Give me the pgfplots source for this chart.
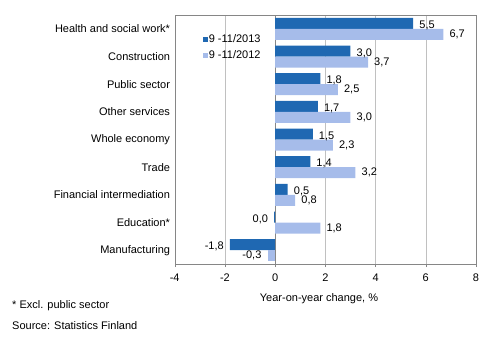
\documentclass[border=0pt]{standalone}
\usepackage{fontspec}
\setmainfont{Liberation Sans}
\usepackage{pgfplots}
\usepackage{pgfplotstable}
\pgfplotsset{compat=1.18}
\definecolor{darkbar}{RGB}{31,104,178}
\definecolor{lightbar}{RGB}{166,188,234}
\definecolor{gridgray}{RGB}{192,192,192}
\definecolor{axisgray}{RGB}{134,134,134}

% 9-11/2013, positive values
\pgfplotstableread{
y x lab
8 5.5 5,5
7 3.0 3,0
6 1.8 1,8
5 1.7 1,7
4 1.5 1,5
3 1.4 1,4
2 0.5 0,5
}\darkpos
% 9-11/2013, negative values
\pgfplotstableread{
y x lab
1 -0.04 0,0
0 -1.8 -1,8
}\darkneg
% 9-11/2012, positive values
\pgfplotstableread{
y x lab
8 6.7 6,7
7 3.7 3,7
6 2.5 2,5
5 3.0 3,0
4 2.3 2,3
3 3.2 3,2
2 0.8 0,8
1 1.8 1,8
}\lightpos
% 9-11/2012, negative values
\pgfplotstableread{
y x lab
0 -0.3 -0,3
}\lightneg

\begin{document}
\begin{tikzpicture}[font=\fontsize{11bp}{13bp}\selectfont]
\useasboundingbox (0,0) rectangle (496bp,341bp);
\begin{axis}[
  at={(174.7bp,77bp)}, anchor=south west,
  scale only axis, width=301.3bp, height=249bp,
  xmin=-4, xmax=8, ymin=-0.5, ymax=8.5,
  xtick={-4,-2,0,2,4,6,8}, xticklabels={-4,-2,0,2,4,6,8},
  ytick={0,...,8},
  yticklabels={Manufacturing, Education*, Financial intermediation, Trade, Whole economy, Other services, Public sector, Construction, Health and social work*},
  xtick pos=lower, ytick pos=left,
  tick align=outside, major tick length=3bp,
  xtick style={draw=axisgray}, ytick style={draw=none},
  axis line style={draw=axisgray},
  xmajorgrids, grid style={draw=gridgray},
  extra x ticks={0}, extra x tick labels={},
  extra x tick style={grid style={draw=axisgray}, major tick length=0pt},
  yticklabel style={inner sep=1.5bp},
  xticklabel style={inner sep=2bp, yshift=-4.5bp},
  legend style={at={(0.082,0.935)}, anchor=north west, draw=none, fill=none,
    row sep=5bp, nodes={inner sep=1bp, anchor=west}, font=\fontsize{11bp}{13bp}\selectfont},
  legend cell align=left,
  legend image code/.code={\fill[#1] (0bp,-2.6bp) rectangle (5.2bp,2.6bp);},
  every node near coord/.append style={text=black, inner xsep=6bp, inner ysep=0bp, font=\fontsize{11bp}{13bp}\selectfont},
  point meta=explicit symbolic,
]
\addplot[xbar, bar width=11bp, bar shift=5.5bp, fill=darkbar, draw=none,
  nodes near coords, every node near coord/.append style={anchor=west, yshift=3.5bp}]
  table[x=x, y=y, meta=lab] {\darkpos};
\addplot[xbar, bar width=11bp, bar shift=-5.5bp, fill=lightbar, draw=none,
  nodes near coords, every node near coord/.append style={anchor=west, yshift=-5.5bp}]
  table[x=x, y=y, meta=lab] {\lightpos};
\addplot[forget plot, xbar, bar width=11bp, bar shift=5.5bp, fill=darkbar, draw=none,
  nodes near coords, every node near coord/.append style={anchor=east, yshift=3.5bp}]
  table[x=x, y=y, meta=lab] {\darkneg};
\addplot[forget plot, xbar, bar width=11bp, bar shift=-5.5bp, fill=lightbar, draw=none,
  nodes near coords, every node near coord/.append style={anchor=east, yshift=-5.5bp}]
  table[x=x, y=y, meta=lab] {\lightneg};
\legend{9 -11/2013, 9 -11/2012}
\end{axis}
\node at (319bp,42bp) {Year-on-year change, \%};
\node[anchor=west, inner sep=0pt] at (12bp,35bp) {* Excl. public sector};
\node[anchor=west, inner sep=0pt] at (12bp,15bp) {Source: Statistics Finland};
\end{tikzpicture}
\end{document}
